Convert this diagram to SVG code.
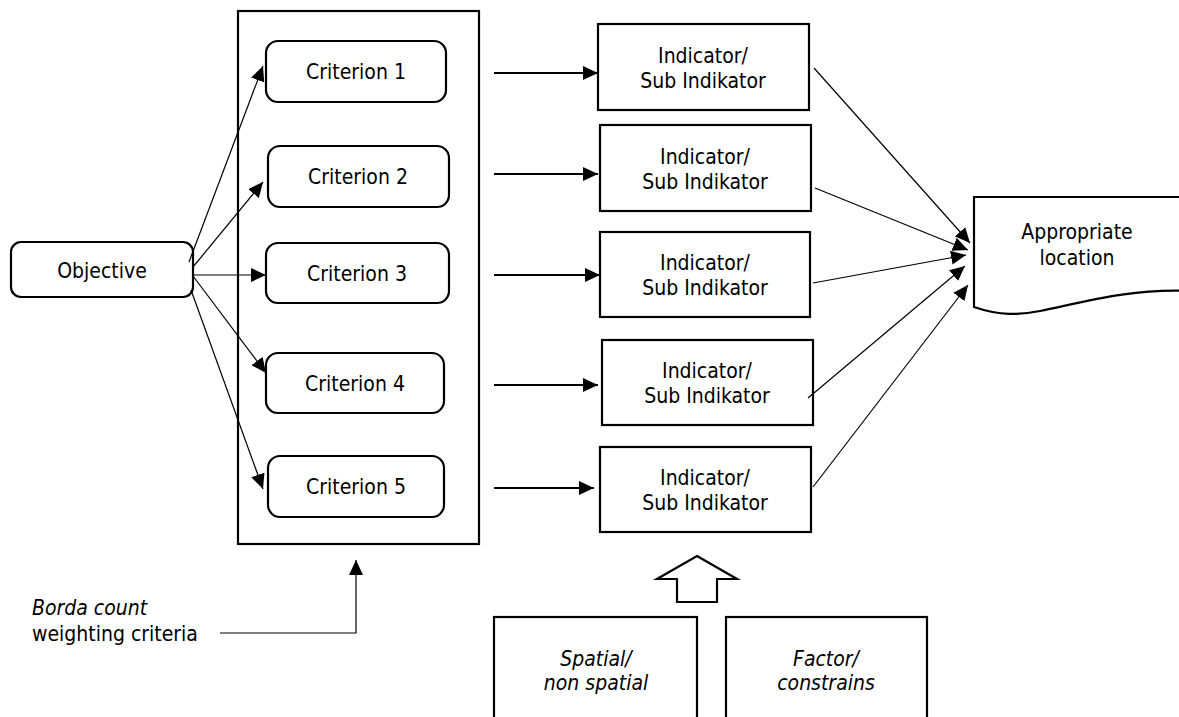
<svg xmlns="http://www.w3.org/2000/svg" width="1179" height="717" viewBox="0 0 1179 717">
<style>
text{font-family:"DejaVu Sans Condensed","DejaVu Sans",sans-serif;font-stretch:condensed;font-size:21px;fill:#000}
.c{text-anchor:middle}
.it{font-style:italic}
.box{fill:#fff;stroke:#000;stroke-width:2.2}
.ln{fill:none;stroke:#000;stroke-width:1.2}
.lnb{fill:none;stroke:#000;stroke-width:2}
</style>
<defs>
<marker id="ah" markerUnits="userSpaceOnUse" markerWidth="16" markerHeight="14" refX="15" refY="7" orient="auto" viewBox="0 0 16 14">
<path d="M0,0 L15,7 L0,14 Z" fill="#000"/>
</marker>
</defs>
<rect id="group-box" x="238" y="11" width="241" height="533" class="box" fill="none"/>
<g id="objective"><rect x="11" y="242" width="182" height="55" rx="10" class="box"/><text class="c" x="102" y="278">Objective</text></g>
<g id="criterion1"><rect x="266" y="41" width="180" height="61" rx="12" class="box"/><text class="c" x="356" y="79">Criterion 1</text></g>
<g id="criterion2"><rect x="268" y="146" width="181" height="61" rx="12" class="box"/><text class="c" x="358" y="184">Criterion 2</text></g>
<g id="criterion3"><rect x="266" y="243" width="183" height="60" rx="12" class="box"/><text class="c" x="357" y="281">Criterion 3</text></g>
<g id="criterion4"><rect x="266" y="353" width="178" height="60" rx="12" class="box"/><text class="c" x="355" y="391">Criterion 4</text></g>
<g id="criterion5"><rect x="268" y="456" width="176" height="61" rx="12" class="box"/><text class="c" x="356" y="494">Criterion 5</text></g>
<g id="indicator1"><rect x="598" y="24" width="211" height="86" class="box"/><text class="c" x="703" y="63">Indicator/</text><text class="c" x="703" y="88">Sub Indikator</text></g>
<g id="indicator2"><rect x="600" y="125" width="211" height="86" class="box"/><text class="c" x="705" y="164">Indicator/</text><text class="c" x="705" y="189">Sub Indikator</text></g>
<g id="indicator3"><rect x="600" y="232" width="210" height="85" class="box"/><text class="c" x="705" y="270">Indicator/</text><text class="c" x="705" y="295">Sub Indikator</text></g>
<g id="indicator4"><rect x="602" y="340" width="211" height="85" class="box"/><text class="c" x="707" y="378">Indicator/</text><text class="c" x="707" y="403">Sub Indikator</text></g>
<g id="indicator5"><rect x="600" y="447" width="211" height="85" class="box"/><text class="c" x="705" y="485">Indicator/</text><text class="c" x="705" y="510">Sub Indikator</text></g>
<g id="location"><path d="M974,307 V197 H1190 V291 C1130,288 1080,303 1040,311 C1020,315 1000,316 974,307 Z" class="box"/><text class="c" x="1077" y="239">Appropriate</text><text class="c" x="1077" y="265">location</text></g>
<g id="spatial"><rect x="494" y="617" width="203" height="110" class="box"/><text class="c it" x="596" y="666">Spatial/</text><text class="c it" x="596" y="690">non spatial</text></g>
<g id="factor"><rect x="726" y="617" width="201" height="110" class="box"/><text class="c it" x="826" y="666">Factor/</text><text class="c it" x="826" y="690">constrains</text></g>
<g id="borda"><text class="it" x="32" y="615">Borda count</text><text x="32" y="641">weighting criteria</text></g>
<g id="connectors">
<line class="ln" x1="189" y1="262" x2="263" y2="66" marker-end="url(#ah)"/>
<line class="ln" x1="193" y1="267" x2="263" y2="182" marker-end="url(#ah)"/>
<line class="ln" x1="193" y1="275" x2="266" y2="275" marker-end="url(#ah)"/>
<line class="ln" x1="193" y1="276" x2="266" y2="373" marker-end="url(#ah)"/>
<line class="ln" x1="191" y1="290" x2="263" y2="489" marker-end="url(#ah)"/>
<line class="lnb" x1="494" y1="73" x2="598" y2="73" marker-end="url(#ah)"/>
<line class="lnb" x1="494" y1="174" x2="598" y2="174" marker-end="url(#ah)"/>
<line class="lnb" x1="494" y1="275" x2="600" y2="275" marker-end="url(#ah)"/>
<line class="lnb" x1="494" y1="385" x2="598" y2="385" marker-end="url(#ah)"/>
<line class="lnb" x1="494" y1="488" x2="594" y2="488" marker-end="url(#ah)"/>
<line class="ln" x1="814" y1="68" x2="970" y2="243" marker-end="url(#ah)"/>
<line class="ln" x1="815" y1="188" x2="968" y2="250" marker-end="url(#ah)"/>
<line class="ln" x1="813" y1="283" x2="966" y2="255" marker-end="url(#ah)"/>
<line class="ln" x1="808" y1="398" x2="965" y2="266" marker-end="url(#ah)"/>
<line class="ln" x1="813" y1="487" x2="968" y2="285" marker-end="url(#ah)"/>
<polyline class="ln" points="220,633 356,633 356,560" marker-end="url(#ah)"/>
<polygon class="box" points="697,556 737,579 717,579 717,602 677,602 677,579 657,579"/>
</g>
</svg>
